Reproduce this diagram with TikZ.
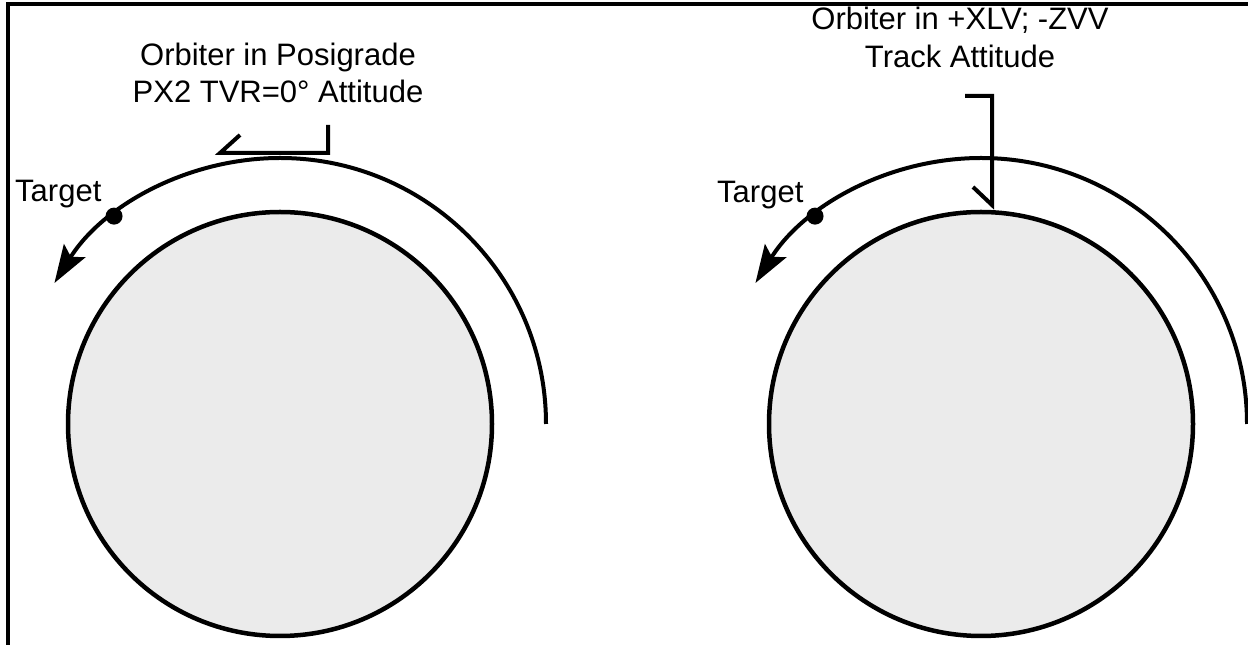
\documentclass[tikz,border=0pt]{standalone}
\usepackage{fontspec}
\setmainfont{Liberation Sans}
\usetikzlibrary{arrows.meta}
\tikzset{
  earth/.style={line width=4.5pt, fill=black!8},
  orbit/.style={line width=4pt},
  bracket/.style={line width=4pt},
  lbl/.style={anchor=base, inner sep=0pt}
}
\begin{document}
\begin{tikzpicture}[x=1pt, y=1pt, font=\fontsize{31}{37}\selectfont, >={Stealth[length=38pt,width=25pt,inset=7pt]}]
\useasboundingbox (0,0) rectangle (1248,645);
% frame
\draw[line width=3.5pt] (8,0) -- (8,641) -- (1248,641);
% earth, orbit and target
\foreach \cx/\nm in {280/L,981/R}{
  \draw[earth] (\cx,221) circle(212);
  \draw[orbit,->] (\cx,221) ++(0:266) arc[start angle=0, end angle=148, radius=266];
  \path (\cx,221) ++(128.6:266) coordinate (tgt\nm);
  \fill (tgt\nm) circle(8.5);
}
\node[lbl, anchor=base west] (targetL) at (15,443) {Target};
\node[lbl, anchor=base west] (targetR) at (717,442) {Target};
% posigrade attitude
\node[lbl] (attL1) at (278,579) {Orbiter in Posigrade};
\node[lbl] (attL2) at (278,542) {PX2 TVR=0° Attitude};
\draw[bracket] (240,510) -- (220,492) -- (328,492) -- (328,520);
% track attitude
\node[lbl] (attR1) at (960,615) {Orbiter in +XLV; -ZVV};
\node[lbl] (attR2) at (960,577) {Track Attitude};
\draw[bracket] (965,549) -- (992,549) -- (992,440) -- (973,458);
\end{tikzpicture}
\end{document}
